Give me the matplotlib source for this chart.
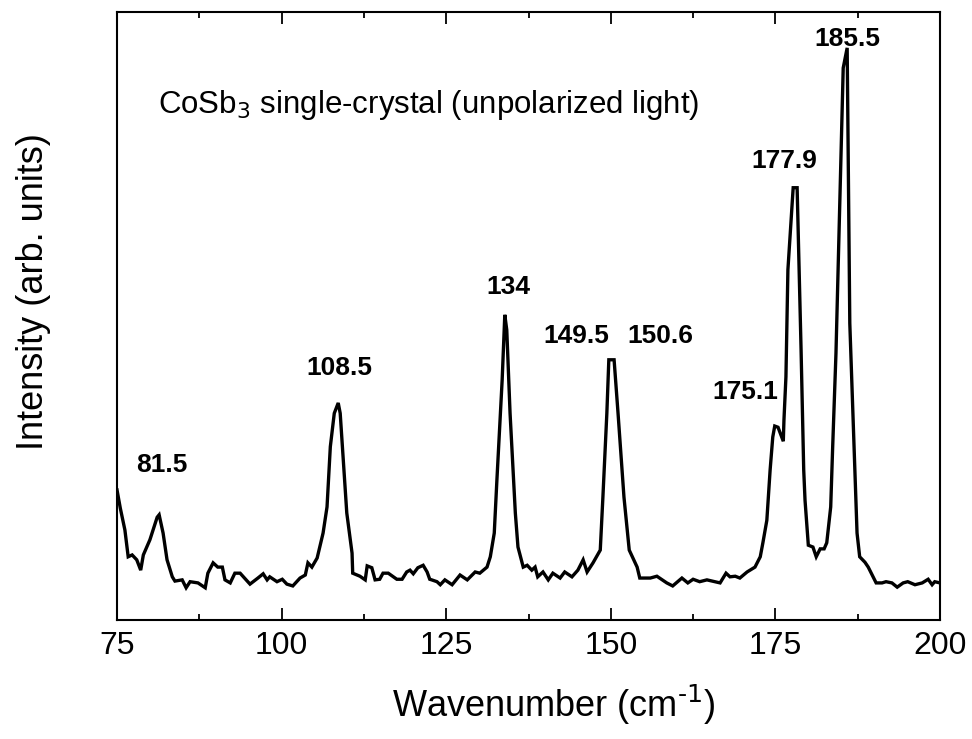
import matplotlib
matplotlib.use("Agg")
import matplotlib.pyplot as plt
from matplotlib.ticker import MultipleLocator

# Raman spectrum (arbitrary intensity, 0-100 scale)
wavenumber = [
    75.0, 75.5, 76.2, 76.7, 77.3, 78.0, 78.6, 79.0, 80.0, 81.1, 81.4, 82.0, 82.6, 83.4, 83.8,
    84.9, 85.5, 86.1, 87.3, 88.4, 88.8, 89.6, 90.3, 91.0, 91.4, 92.2, 92.9, 93.7, 95.2, 96.4,
    97.2, 97.8, 98.2, 99.3, 100.1, 100.8, 101.7, 102.8, 103.6, 104.0, 104.6, 105.4, 106.3, 106.9,
    107.4, 108.0, 108.6, 108.9, 109.3, 109.9, 110.7, 110.8, 111.9, 112.7, 113.0, 113.7, 114.2,
    114.9, 115.4, 116.2, 117.5, 118.3, 119.0, 119.5, 120.0, 120.7, 121.5, 122.1, 122.5, 122.8,
    123.6, 124.1, 124.8, 125.9, 127.1, 128.2, 129.4, 130.1, 131.2, 131.7, 132.3, 132.7, 133.5,
    133.9, 134.2, 134.7, 135.5, 135.9, 136.7, 137.3, 138.0, 138.5, 138.9, 139.7, 140.5, 141.2,
    142.3, 143.0, 144.1, 145.0, 145.8, 146.4, 147.3, 148.4, 148.8, 149.4, 149.7, 150.5, 151.1,
    152.0, 152.8, 154.0, 154.4, 156.0, 157.0, 158.5, 159.4, 160.8, 161.7, 162.5, 163.5, 164.6,
    165.8, 166.6, 167.5, 168.1, 168.9, 169.6, 170.7, 171.9, 172.7, 173.1, 173.7, 174.2, 174.6,
    174.9, 175.4, 176.2, 176.3, 176.6, 176.9, 177.7, 178.3, 178.9, 179.3, 179.5, 180.0, 180.7,
    181.2, 181.8, 182.4, 182.8, 183.4, 183.7, 184.2, 185.3, 185.9, 186.3, 186.8, 187.4, 187.8,
    188.6, 189.1, 189.7, 190.3, 191.2, 191.8, 192.7, 193.5, 194.4, 195.1, 196.2, 197.3, 198.2,
    198.8, 199.2, 200.0,
]
intensity = [
    21.4, 18.4, 14.8, 10.4, 10.7, 9.9, 8.2, 10.7, 13.2, 16.9, 17.3, 14.3, 9.9, 7.1, 6.4,
    6.6, 5.3, 6.3, 6.1, 5.3, 7.7, 9.4, 8.7, 8.7, 6.6, 6.1, 7.7, 7.7, 5.9, 6.9,
    7.6, 6.6, 7.1, 6.3, 6.7, 5.9, 5.6, 6.9, 7.4, 9.4, 8.7, 10.2, 14.3, 18.6,
    28.5, 34.0, 35.7, 34.0, 27.5, 17.6, 11.0, 7.7, 7.2, 6.6, 8.9, 8.6, 6.6,
    6.7, 7.7, 7.7, 6.7, 6.7, 7.9, 8.2, 7.6, 8.6, 9.0, 7.9, 6.7, 6.6,
    6.3, 5.8, 6.6, 5.8, 7.4, 6.6, 7.9, 7.7, 8.7, 10.4, 14.3, 23.0, 39.5,
    50.2, 47.7, 34.0, 17.6, 12.0, 8.7, 9.0, 8.2, 8.7, 7.1, 7.9, 6.6, 7.7,
    6.9, 7.9, 7.1, 8.2, 9.9, 7.9, 9.4, 11.5, 20.2, 34.0, 42.8, 42.8, 34.0,
    20.2, 11.5, 8.7, 6.9, 6.9, 7.2, 6.1, 5.6, 6.9, 6.1, 6.7, 6.3, 6.6,
    6.3, 6.1, 7.7, 7.1, 7.2, 6.9, 7.9, 8.7, 10.4, 12.7, 16.4, 24.7, 30.1,
    31.9, 31.7, 29.4, 32.9, 40.0, 57.6, 71.1, 71.1, 44.4, 24.7, 19.7, 12.3, 12.0,
    10.4, 11.7, 11.7, 12.7, 18.6, 28.5, 43.9, 90.8, 94.1, 48.8, 32.9, 14.3, 10.4,
    9.5, 8.7, 7.4, 6.1, 6.1, 6.3, 6.1, 5.4, 6.1, 6.3, 5.8, 6.1, 6.7,
    5.8, 6.3, 6.1,
]

# peak labels: text, x (cm-1), y (arb.)
peak_labels = ["81.5", "108.5", "134", "149.5", "150.6", "175.1", "177.9", "185.5"]
peak_label_x = [81.8, 108.7, 134.4, 144.7, 157.6, 170.5, 176.3, 185.9]
peak_label_y = [25.5, 41.4, 54.8, 46.7, 46.7, 37.5, 75.5, 95.5]

FONT = ["Liberation Sans", "DejaVu Sans"]

fig = plt.figure(figsize=(9.72, 7.39), dpi=100)
ax = fig.add_axes([117 / 972, 119 / 739, 823 / 972, 608 / 739])

ax.plot(wavenumber, intensity, color="black", linewidth=2.4, solid_joinstyle="miter")

for txt, x, y in zip(peak_labels, peak_label_x, peak_label_y):
    ax.text(x, y, txt, ha="center", va="center", fontsize=19, fontweight="bold",
            family=FONT)

ax.text(81.2, 84.7, r"CoSb$_3$ single-crystal (unpolarized light)", ha="left", va="center",
        fontsize=22.5, family=FONT)

ax.set_xlim(75, 200)
ax.set_ylim(0, 100)
ax.xaxis.set_major_locator(MultipleLocator(25))
ax.xaxis.set_minor_locator(MultipleLocator(12.5))
ax.tick_params(axis="x", which="both", direction="in", top=True, bottom=True, width=1.3)
ax.tick_params(axis="x", which="major", length=8.5, pad=8)
ax.tick_params(axis="x", which="minor", length=4.3)
ax.set_yticks([])
for lab in ax.get_xticklabels():
    lab.set_family(FONT)
    lab.set_fontsize(23)
for s in ax.spines.values():
    s.set_linewidth(1.5)

ax.set_xlabel(r"Wavenumber (cm$^{\text{-1}}$)", fontsize=26, family=FONT)
ax.set_ylabel("Intensity (arb. units)", fontsize=26, family=FONT)
ax.xaxis.set_label_coords(0.531, -0.103)
ax.yaxis.set_label_coords(-0.08, 0.54)

fig.savefig("out.png", dpi=100, facecolor="white")
